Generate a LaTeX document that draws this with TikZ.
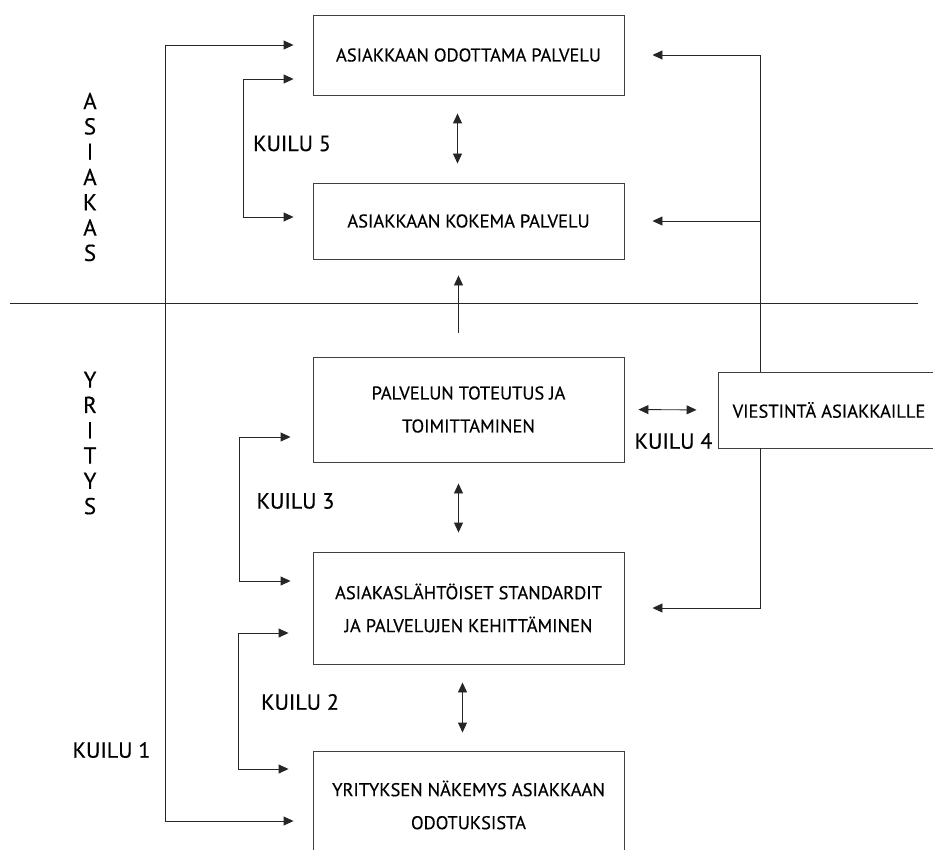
\documentclass[tikz,border=0pt]{standalone}
\usepackage{fontspec}
\setmainfont{PT Sans}[FakeBold=0.35]
\usetikzlibrary{arrows.meta}

\begin{document}
\begin{tikzpicture}[x=1pt,y=-1pt,
  box/.style={draw=black!75, line width=0.9pt, minimum width=311pt, inner sep=0pt,
    align=center, font=\fontsize{18.5}{33}\selectfont},
  gaplabel/.style={inner sep=0pt, font=\fontsize{22}{26}\selectfont},
  side/.style={inner sep=0pt, align=center, font=\fontsize{23}{25.3}\selectfont},
  link/.style={draw=black!85, line width=0.9pt},
  tip/.style={-{Triangle[length=10pt,width=9pt]}},
  both/.style={{Triangle[length=10pt,width=9pt]}-{Triangle[length=10pt,width=9pt]}}]
\useasboundingbox (0,0) rectangle (933,850);

\node[box, minimum height=80pt] (odottama) at (468.5,55) {ASIAKKAAN ODOTTAMA PALVELU};
\node[box, minimum height=76pt] (kokema) at (468.5,221) {ASIAKKAAN KOKEMA PALVELU};
\node[box, minimum height=105pt] (toteutus) at (468.5,409.5) {PALVELUN TOTEUTUS JA\\TOIMITTAMINEN};
\node[box, minimum height=112pt] (standardit) at (468.5,608) {ASIAKASLÄHTÖISET STANDARDIT\\JA PALVELUJEN KEHITTÄMINEN};
\node[box, minimum height=108pt] (nakemys) at (468.5,805) {YRITYKSEN NÄKEMYS ASIAKKAAN\\ODOTUKSISTA};
\node[box, minimum width=222pt, minimum height=76pt] (viesti) at (829,410) {VIESTINTÄ ASIAKKAILLE};

% raja asiakkaan ja yrityksen valilla
\coordinate (raja-l) at (10,303);
\coordinate (raja-r) at (918,303);
\draw[link] (raja-l) -- (raja-r);

\node[side] (asiakas) at (90,177) {A\\S\\I\\A\\K\\A\\S};
\node[side] (yritys) at (90,443) {Y\\R\\I\\T\\Y\\S};

\node[gaplabel] (kuilu5) at (292,143.5) {KUILU 5};
\node[gaplabel] (kuilu4) at (673.5,441) {KUILU 4};
\node[gaplabel] (kuilu3) at (295.5,501) {KUILU 3};
\node[gaplabel] (kuilu2) at (300,702) {KUILU 2};
\node[gaplabel] (kuilu1) at (111.5,750) {KUILU 1};

% kuilujen hakaset
\coordinate (k1a) at (165,45);
\coordinate (k1b) at (165,821);
\coordinate (k5a) at (243,79);
\coordinate (k5b) at (243,217);
\coordinate (k3a) at (239,437);
\coordinate (k3b) at (239,581);
\coordinate (k2a) at (238,633);
\coordinate (k2b) at (238,769);
\draw[link, both, shorten <=19pt, shorten >=19pt] (odottama.west |- k1a) -- (k1a) -- (k1b) -- (nakemys.west |- k1b);
\draw[link, both, shorten <=19pt, shorten >=19pt] (odottama.west |- k5a) -- (k5a) -- (k5b) -- (kokema.west |- k5b);
\draw[link, both, shorten <=22pt, shorten >=22pt] (toteutus.west |- k3a) -- (k3a) -- (k3b) -- (standardit.west |- k3b);
\draw[link, both, shorten <=24pt, shorten >=24pt] (standardit.west |- k2a) -- (k2a) -- (k2b) -- (nakemys.west |- k2b);

% laatikoiden valiset nuolet
\draw[link, both, shorten <=18pt, shorten >=19pt] ([xshift=-11pt]odottama.south) -- ([xshift=-11pt]kokema.north);
\draw[link, tip, shorten <=24pt, shorten >=16pt] ([xshift=-10pt]toteutus.north) -- ([xshift=-10pt]kokema.south);
\draw[link, both, shorten <=21pt, shorten >=19pt] ([xshift=-10pt]toteutus.south) -- ([xshift=-10pt]standardit.north);
\draw[link, both, shorten <=18pt, shorten >=18pt] ([xshift=-6pt]standardit.south) -- ([xshift=-6pt]nakemys.north);
\draw[link, both, shorten <=14pt, shorten >=21pt] (toteutus.east) -- (viesti.west);

% viestinta oikealla
\coordinate (rail) at (760,0);
\draw[link, tip, shorten >=28pt] (rail |- viesti.north) -- (rail |- odottama.east) -- (odottama.east);
\draw[link, tip, shorten >=28pt] (rail |- kokema.east) -- (kokema.east);
\draw[link, tip, shorten >=28pt] (rail |- viesti.south) -- (rail |- standardit.east) -- (standardit.east);
\end{tikzpicture}
\end{document}
